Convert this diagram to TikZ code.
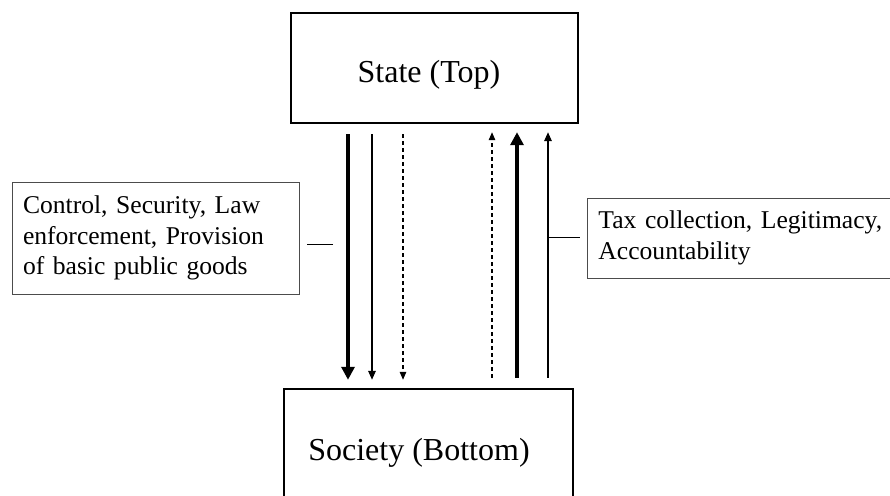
\documentclass[tikz,border=0pt]{standalone}
\usepackage{fontspec}
\setmainfont{Liberation Serif}
\usetikzlibrary{arrows.meta}
\tikzstyle{levelBox}=[shape = rectangle, draw, line width = 2.4pt, font = \fontsize{32}{38}\selectfont]
\tikzstyle{flowLabel}=[shape = rectangle, draw = black!70, line width = 0.9pt, inner xsep = 11pt, align = left, font = \fontsize{25.6}{30.5}\selectfont]

\begin{document}
\begin{tikzpicture}[x = 1pt, y = -1pt]
\tikzstyle{thickArrow}=[line width = 4.2pt, -{Triangle[length = 13pt, width = 13pt]}, shorten < = 10pt, shorten > = 8pt]
\tikzstyle{thinArrow}=[line width = 1.6pt, -{Triangle[length = 9pt, width = 7.5pt]}, shorten < = 10pt, shorten > = 8pt]
\tikzstyle{dashArrow}=[line width = 1.2pt, dash pattern = on 4pt off 3pt, -{Triangle[length = 8pt, width = 6.5pt]}, shorten < = 10pt, shorten > = 8pt]
\tikzstyle{pinLine}=[line width = 0.9pt]
\clip (0,0) rectangle (890,495);
\node[levelBox, minimum width = 287pt, minimum height = 110pt, text height = 34pt, text depth = 6pt] (state) at (434.5,68) {\hspace*{-11pt}State (Top)};
\node[levelBox, minimum width = 289pt, minimum height = 116pt, text height = 32pt, text depth = 6pt] (society) at (428.5,447) {\hspace*{-19pt}Society (Bottom)};
\node[flowLabel, text width = 265pt, minimum height = 112pt] (ctrl) at (155.5,238) {Control, Security, Law\\ enforcement, Provision\\ of basic public goods};
\node[flowLabel, text width = 308pt, minimum height = 80pt, anchor = west] (tax) at (587,238) {Tax collection, Legitimacy,\\ Accountability};
% downward flows
\draw[thickArrow] (348,0 |- state.south) -- (348,0 |- society.north);
\draw[thinArrow] (372,0 |- state.south) -- (372,0 |- society.north);
\draw[dashArrow] (403,0 |- state.south) -- (403,0 |- society.north);
% upward flows
\draw[dashArrow] (492,0 |- society.north) -- (492,0 |- state.south);
\draw[thickArrow] (517,0 |- society.north) -- (517,0 |- state.south);
\draw[thinArrow] (548,0 |- society.north) -- (548,0 |- state.south);
% label pins
\coordinate (ctrlPin) at (333,244);
\coordinate (taxPin) at (548,237);
\draw[pinLine, shorten > = 8pt] (ctrlPin) -- (ctrlPin -| ctrl.east);
\draw[pinLine, shorten > = 7pt] (taxPin) -- (taxPin -| tax.west);
\end{tikzpicture}
\end{document}
